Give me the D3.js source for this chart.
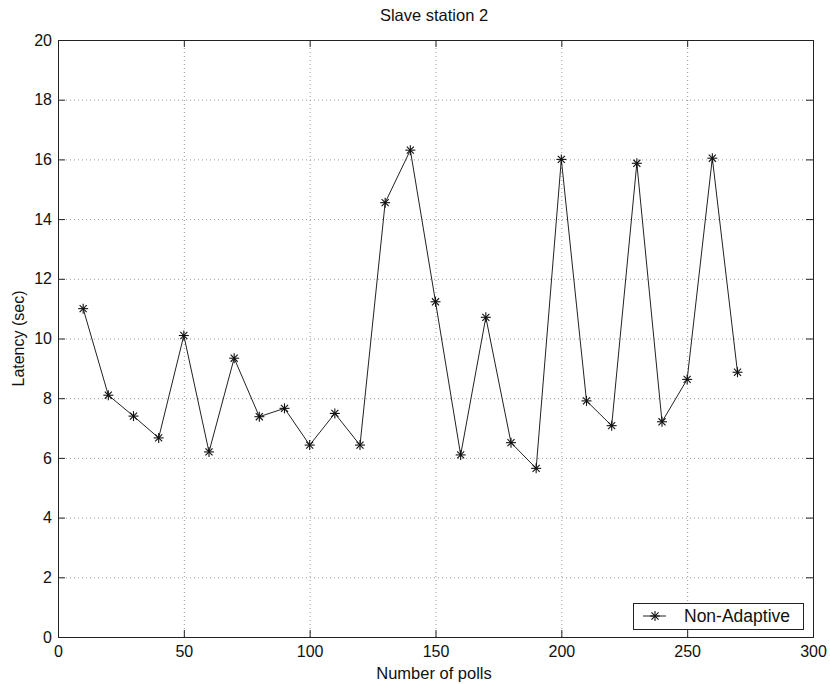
<!DOCTYPE html>
<html>
<head>
<meta charset="utf-8">
<script src="https://cdn.jsdelivr.net/npm/d3@7"></script>
<style>
  html, body { margin: 0; padding: 0; background: #fff; }
  svg { display: block; font-family: Arial, "Liberation Sans", Helvetica, sans-serif; }
</style>
</head>
<body>
<svg id="chart" width="830" height="684"></svg>
<script>
// Latency per poll count for slave station 2 (non-adaptive polling)
const polls = [10, 20, 30, 40, 50, 60, 70, 80, 90, 100, 110, 120, 130, 140, 150,
               160, 170, 180, 190, 200, 210, 220, 230, 240, 250, 260, 270];
const latency = [11.0, 8.1, 7.4, 6.67, 10.1, 6.2, 9.34, 7.38, 7.66, 6.43, 7.49, 6.43, 14.55, 16.31, 11.23,
                 6.1, 10.71, 6.51, 5.65, 16.0, 7.91, 7.08, 15.87, 7.21, 8.63, 16.04, 8.87];
const xTicks = [0, 50, 100, 150, 200, 250, 300];
const yTicks = [0, 2, 4, 6, 8, 10, 12, 14, 16, 18, 20];
const seriesName = "Non-Adaptive";

const svg = d3.select("#chart");
const plotL = 58, plotR = 813, plotT = 40, plotB = 637;

const x = d3.scaleLinear().domain([0, 300]).range([plotL, plotR]);
const y = d3.scaleLinear().domain([0, 20]).range([plotB, plotT]);

// dotted grid
const grid = svg.append("g").attr("stroke", "#9a9a9a").attr("stroke-width", 1)
  .attr("stroke-dasharray", "1,3");
grid.selectAll("line.gx").data(xTicks.slice(1, -1)).join("line")
  .attr("x1", d => x(d) + 0.5).attr("x2", d => x(d) + 0.5)
  .attr("y1", plotT).attr("y2", plotB);
grid.selectAll("line.gy").data(yTicks.slice(1, -1)).join("line")
  .attr("y1", d => y(d) + 0.5).attr("y2", d => y(d) + 0.5)
  .attr("x1", plotL).attr("x2", plotR);

// axes with inward ticks on all four sides
const tickLen = 7;
svg.append("g").attr("transform", `translate(0,${plotB})`)
  .call(d3.axisBottom(x).tickValues(xTicks).tickSizeInner(-tickLen).tickSizeOuter(0).tickPadding(9));
svg.append("g").attr("transform", `translate(0,${plotT})`)
  .call(d3.axisTop(x).tickValues(xTicks).tickSizeInner(-tickLen).tickSizeOuter(0).tickFormat(""));
svg.append("g").attr("transform", `translate(${plotL},0)`)
  .call(d3.axisLeft(y).tickValues(yTicks).tickSizeInner(-tickLen).tickSizeOuter(0).tickPadding(6));
svg.append("g").attr("transform", `translate(${plotR},0)`)
  .call(d3.axisRight(y).tickValues(yTicks).tickSizeInner(-tickLen).tickSizeOuter(0).tickFormat(""));

svg.selectAll(".domain").attr("stroke", "#222");
svg.selectAll(".tick line").attr("stroke", "#222");
svg.selectAll(".tick text").attr("fill", "#111").style("font-size", "16px");

// plot frame
svg.append("rect").attr("x", plotL + 0.5).attr("y", plotT + 0.5)
  .attr("width", plotR - plotL).attr("height", plotB - plotT)
  .attr("fill", "none").attr("stroke", "#222").attr("stroke-width", 1);

// data line
const data = polls.map((p, i) => ({ p, v: latency[i] }));
svg.append("path").datum(data)
  .attr("fill", "none").attr("stroke", "#222").attr("stroke-width", 1)
  .attr("d", d3.line().x(d => x(d.p)).y(d => y(d.v)));

// asterisk marker
function star(g, cx, cy, r) {
  const s = g.append("g").attr("transform", `translate(${cx},${cy})`)
    .attr("stroke", "#111").attr("stroke-width", 1.1);
  for (let k = 0; k < 4; k++) {
    const a = k * Math.PI / 4;
    s.append("line")
      .attr("x1", -r * Math.cos(a)).attr("y1", -r * Math.sin(a))
      .attr("x2", r * Math.cos(a)).attr("y2", r * Math.sin(a));
  }
}
const marks = svg.append("g");
data.forEach(d => star(marks, x(d.p), y(d.v), 5));

// title and axis labels
svg.append("text").attr("x", 434).attr("y", 21).attr("text-anchor", "middle")
  .style("font-size", "16.5px").attr("fill", "#111").text("Slave station 2");
svg.append("text").attr("x", 434).attr("y", 679).attr("text-anchor", "middle")
  .style("font-size", "16.5px").attr("fill", "#111").text("Number of polls");
svg.append("text").attr("transform", `translate(24,${(plotT + plotB) / 2}) rotate(-90)`)
  .attr("text-anchor", "middle").style("font-size", "16px").attr("fill", "#111").text("Latency (sec)");

// legend
const lg = svg.append("g");
lg.append("rect").attr("x", 633.5).attr("y", 603.5).attr("width", 170).attr("height", 26)
  .attr("fill", "#fff").attr("stroke", "#222");
lg.append("line").attr("x1", 643).attr("x2", 666).attr("y1", 616).attr("y2", 616)
  .attr("stroke", "#222");
star(lg, 655, 616, 5);
lg.append("text").attr("x", 684).attr("y", 622).style("font-size", "17.5px")
  .attr("fill", "#111").text(seriesName);
</script>
</body>
</html>
